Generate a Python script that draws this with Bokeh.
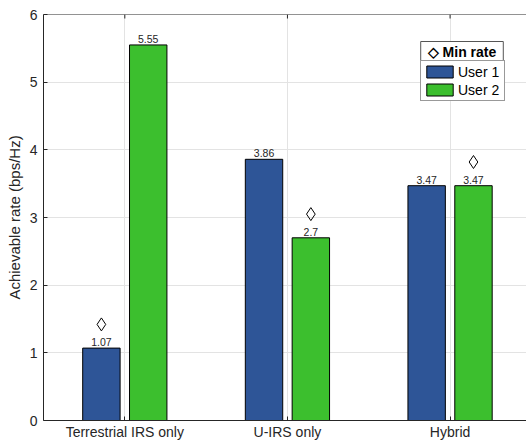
import math
from bokeh.plotting import figure
from bokeh.models import (ColumnDataSource, FixedTicker, Legend, LegendItem,
                          Range1d, Span, Label)
from bokeh.embed import file_html
from bokeh.resources import INLINE

categories = ["Terrestrial IRS only", "U-IRS only", "Hybrid"]
user1 = [1.07, 3.86, 3.47]
user2 = [5.55, 2.7, 3.47]
min_rate = [1.07, 2.7, 3.47]
min_user = [1, 2, 2]
y_ticks = [0, 1, 2, 3, 4, 5, 6]

BLUE = "#2E5597"
GREEN = "#3CBF2E"
AX = "#262626"
FONT = "Liberation Sans"
OFF = 0.144
BW = 0.23
MARK_UP = 0.35

xs = [i + 1 for i in range(len(categories))]
src1 = ColumnDataSource(dict(x=[v - OFF for v in xs], top=user1,
                             lab=[f"{v:g}" for v in user1]))
src2 = ColumnDataSource(dict(x=[v + OFF for v in xs], top=user2,
                             lab=[f"{v:g}" for v in user2]))
srcm = ColumnDataSource(dict(
    x=[xx + (OFF if u == 2 else -OFF) for xx, u in zip(xs, min_user)],
    y=[m + MARK_UP for m in min_rate]))

p = figure(width=526, height=442, output_backend="svg", toolbar_location=None,
           x_range=Range1d(0.5, 3.47), y_range=Range1d(0, 6),
           min_border_left=43, min_border_top=14, min_border_right=0, min_border_bottom=21)
p.outline_line_color = None
p.background_fill_color = "white"

p.xgrid.ticker = FixedTicker(ticks=xs)
p.ygrid.ticker = FixedTicker(ticks=y_ticks)
for g in (p.xgrid[0], p.ygrid[0]):
    g.grid_line_color = "#E3E3E3"
    g.grid_line_width = 1

r1 = p.vbar(x="x", top="top", width=BW, source=src1, fill_color=BLUE,
            line_color="black", line_width=1)
r2 = p.vbar(x="x", top="top", width=BW, source=src2, fill_color=GREEN,
            line_color="black", line_width=1)
p.text(x="x", y="top", text="lab", source=src1, text_align="center",
       text_baseline="bottom", y_offset=-2, text_font_size="10.5px",
       text_color=AX, text_font={"value": FONT})
p.text(x="x", y="top", text="lab", source=src2, text_align="center",
       text_baseline="bottom", y_offset=-2, text_font_size="10.5px",
       text_color=AX, text_font={"value": FONT})
rm = p.scatter(x="x", y="y", source=srcm, marker="diamond", size=13,
               fill_color=None, line_color="black", line_width=1)

# top box line with inward ticks
p.add_layout(Span(location=6, dimension="width", line_color=AX, line_width=1))
p.ray(x=xs, y=[6] * len(xs), length=4, length_units="screen",
      angle=-math.pi / 2, line_color=AX, line_width=1)

# axes
p.xaxis.ticker = FixedTicker(ticks=xs)
p.xaxis.major_label_overrides = {x: c for x, c in zip(xs, categories)}
p.yaxis.ticker = FixedTicker(ticks=y_ticks)
for ax in (p.xaxis[0], p.yaxis[0]):
    ax.major_tick_in = 4
    ax.major_tick_out = 0
    ax.minor_tick_line_color = None
    ax.axis_line_color = AX
    ax.major_tick_line_color = AX
    ax.major_label_text_color = AX
    ax.major_label_text_font = FONT
    ax.major_label_text_font_size = "14px"
p.xaxis.major_label_standoff = 3
p.yaxis.major_label_standoff = 6
p.yaxis.axis_label = "Achievable rate (bps/Hz)"
p.yaxis.axis_label_text_font = FONT
p.yaxis.axis_label_text_font_size = "15px"
p.yaxis.axis_label_text_font_style = "normal"
p.yaxis.axis_label_text_color = AX
p.yaxis.axis_label_standoff = 4

legend = Legend(items=[LegendItem(label="User 1", renderers=[r1]),
                       LegendItem(label="User 2", renderers=[r2])],
                location=(377, 319),
                label_text_font=FONT, label_text_font_size="14px",
                label_text_color="black",
                glyph_width=33, glyph_height=15, label_standoff=2,
                label_width=44, label_height=17,
                padding=2, spacing=1, margin=0,
                border_line_color="#333333", border_line_width=1,
                background_fill_color="white", background_fill_alpha=1)
p.add_layout(legend)

title = Label(x=377 + 41.5, y=358, x_units="screen", y_units="screen",
              text="\u25c7 Min rate", text_align="center", text_baseline="bottom",
              text_font=FONT, text_font_style="bold", text_font_size="14px",
              text_color="black",
              background_fill_color="white", background_fill_alpha=1,
              border_line_color="#555555", border_line_width=1,
              padding=dict(left=7, right=7, top=2, bottom=3))
p.add_layout(title)

open("out.html", "w").write(file_html(p, INLINE))
